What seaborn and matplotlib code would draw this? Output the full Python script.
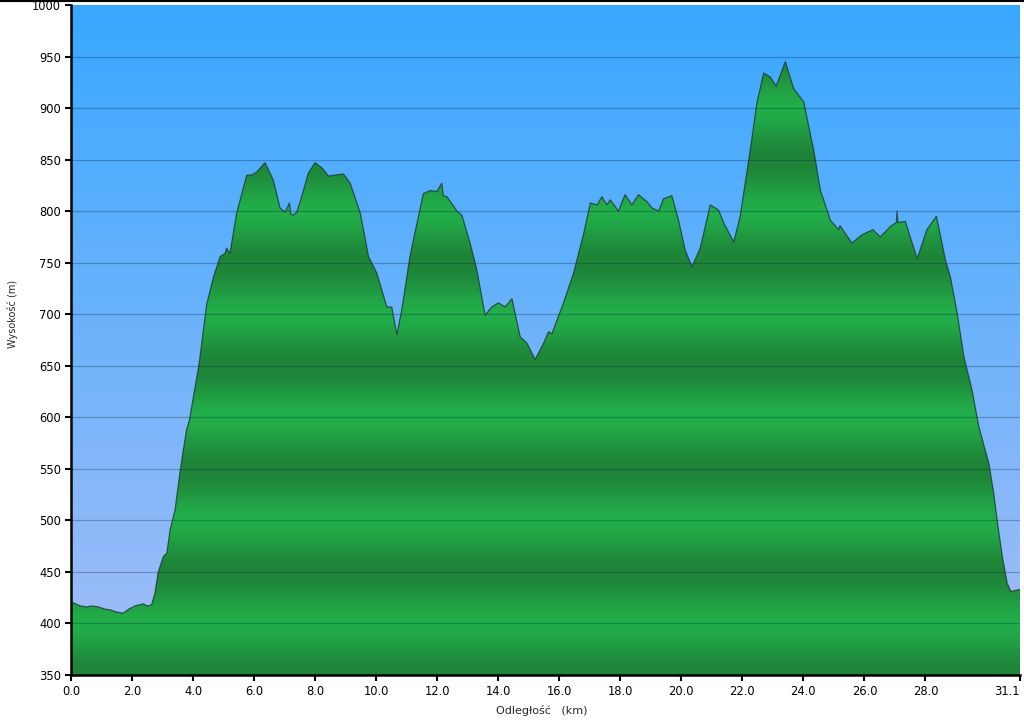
import numpy as np
import matplotlib
matplotlib.use("Agg")
import matplotlib.pyplot as plt
import seaborn as sns

# --- elevation profile (km, m) ---
distance_km = [0.00, 0.15, 0.30, 0.50, 0.70, 0.90, 1.10, 1.30, 1.50, 1.71, 1.90, 2.10, 2.37, 2.50,
               2.64, 2.75, 2.86, 3.03, 3.14, 3.25, 3.41, 3.57, 3.68, 3.79, 3.88, 4.20, 4.45, 4.67,
               4.89, 5.05, 5.10, 5.21, 5.43, 5.76, 5.92, 6.09, 6.36, 6.63, 6.85, 7.02, 7.16, 7.20,
               7.27, 7.40, 7.56, 7.78, 8.00, 8.22, 8.44, 8.66, 8.93, 9.15, 9.48, 9.75, 10.02, 10.35,
               10.51, 10.68, 10.84, 11.11, 11.22, 11.55, 11.77, 11.99, 12.15, 12.20, 12.32, 12.65,
               12.81, 13.08, 13.30, 13.57, 13.79, 14.01, 14.23, 14.45, 14.72, 14.94, 15.21, 15.49,
               15.65, 15.76, 16.14, 16.47, 16.80, 17.02, 17.24, 17.40, 17.56, 17.67, 17.94, 18.16,
               18.38, 18.60, 18.88, 19.04, 19.26, 19.42, 19.69, 19.91, 20.13, 20.35, 20.62, 20.95,
               21.22, 21.40, 21.72, 21.93, 22.26, 22.48, 22.70, 22.92, 23.11, 23.41, 23.68, 24.01,
               24.34, 24.56, 24.89, 25.16, 25.20, 25.59, 25.92, 26.28, 26.52, 26.85, 27.05, 27.07,
               27.10, 27.34, 27.73, 28.05, 28.36, 28.66, 28.82, 29.04, 29.26, 29.53, 29.75, 30.08,
               30.24, 30.35, 30.52, 30.68, 30.80, 31.10]
elevation_m = [421, 419, 417, 416, 417, 416, 414, 413, 411, 410, 414, 417, 419, 417,
               418, 429, 450, 465, 468, 491, 510, 546, 568, 588, 597, 652, 710, 736,
               756, 759, 764, 759, 798, 835, 835, 838, 847, 830, 803, 799, 808, 797,
               796, 799, 814, 837, 847, 842, 834, 835, 836, 827, 798, 756, 740, 707,
               707, 680, 704, 756, 772, 817, 820, 819, 827, 815, 814, 800,
               796, 769, 743, 699, 707, 711, 707, 715, 678, 672, 656, 672,
               683, 681, 711, 740, 778, 808, 806, 814, 806, 811, 800, 816,
               806, 816, 809, 803, 800, 812, 815, 791, 762, 746, 764, 806,
               801, 788, 770, 795, 859, 905, 934, 930, 921, 945, 919, 906,
               859, 820, 791, 782, 786, 769, 777, 782, 775, 785, 789, 800,
               789, 790, 754, 782, 795, 752, 736, 701, 659, 626, 591, 555,
               526, 500, 465, 439, 431, 433]

x_ticks = [0, 2, 4, 6, 8, 10, 12, 14, 16, 18, 20, 22, 24, 26, 28, 31.1]
x_tick_labels = ["0.0", "2.0", "4.0", "6.0", "8.0", "10.0", "12.0", "14.0", "16.0",
                 "18.0", "20.0", "22.0", "24.0", "26.0", "28.0", "31.1"]
y_ticks = list(range(350, 1001, 50))

x_min, x_max = 0, 31.1
y_min, y_max = 350, 1000

sns.set_style("ticks")
plt.rcParams["font.family"] = ["DejaVu Sans"]

fig = plt.figure(figsize=(10.24, 7.21), dpi=100)
ax = fig.add_axes([71 / 1024, 1 - 675 / 721, 949 / 1024, 670 / 721])

# sky gradient
rows = np.linspace(0, 1, 256)[:, None]
sky_bottom = np.array([165, 190, 248]) / 255
sky_top = np.array([56, 168, 255]) / 255
sky = (sky_bottom + (sky_top - sky_bottom) * rows)[:, None, :]
ax.imshow(sky, extent=[x_min, x_max, y_min, y_max], aspect="auto", origin="lower", zorder=0)

# striped green fill (dark at x50 m, bright at x00 m)
lev = np.linspace(y_min, y_max, 1300)
f = (1 - np.cos(2 * np.pi * (lev - 400) / 100)) / 2
bright = np.array([34, 174, 74]) / 255
dark = np.array([30, 132, 56]) / 255
green = (bright + (dark - bright) * f[:, None] ** 0.9)[:, None, :]

poly = ax.fill_between(distance_km, elevation_m, y_min, color="none", lw=0)
im = ax.imshow(green, extent=[x_min, x_max, y_min, y_max], aspect="auto", origin="lower", zorder=1)
im.set_clip_path(poly.get_paths()[0], transform=ax.transData)

for y in y_ticks[1:-1]:
    ax.axhline(y, color="#0a2540", alpha=0.3, lw=0.9, zorder=2)

sns.lineplot(x=distance_km, y=elevation_m, ax=ax, color="#1d3a2c", lw=0.9, alpha=0.8, zorder=3)

ax.set_xlim(x_min, x_max)
ax.set_ylim(y_min, y_max)
ax.set_xticks(x_ticks)
ax.set_xticklabels(x_tick_labels)
ax.set_yticks(y_ticks)
ax.tick_params(axis="both", length=4, width=1.5, labelsize=8.3, pad=3, colors="black")
last = ax.get_xticklabels()[-1]
last.set_ha("right")
last.set_x(31.1)

for side in ["top", "right"]:
    ax.spines[side].set_visible(False)
for side in ["left", "bottom"]:
    ax.spines[side].set_linewidth(1.8)
    ax.spines[side].set_color("black")

ax.set_xlabel("")
ax.set_ylabel("")
fig.text(542 / 1024, 1 - 710 / 721, "Odległość   (km)", ha="center", va="center", fontsize=8)
fig.text(13 / 1024, 1 - 314 / 721, "Wysokość (m)", rotation=90, ha="center", va="center", fontsize=7)

fig.add_artist(plt.Line2D([0, 1], [0.999, 0.999], transform=fig.transFigure, color="black", lw=1.5, zorder=10))

fig.savefig("out.png", dpi=100)
